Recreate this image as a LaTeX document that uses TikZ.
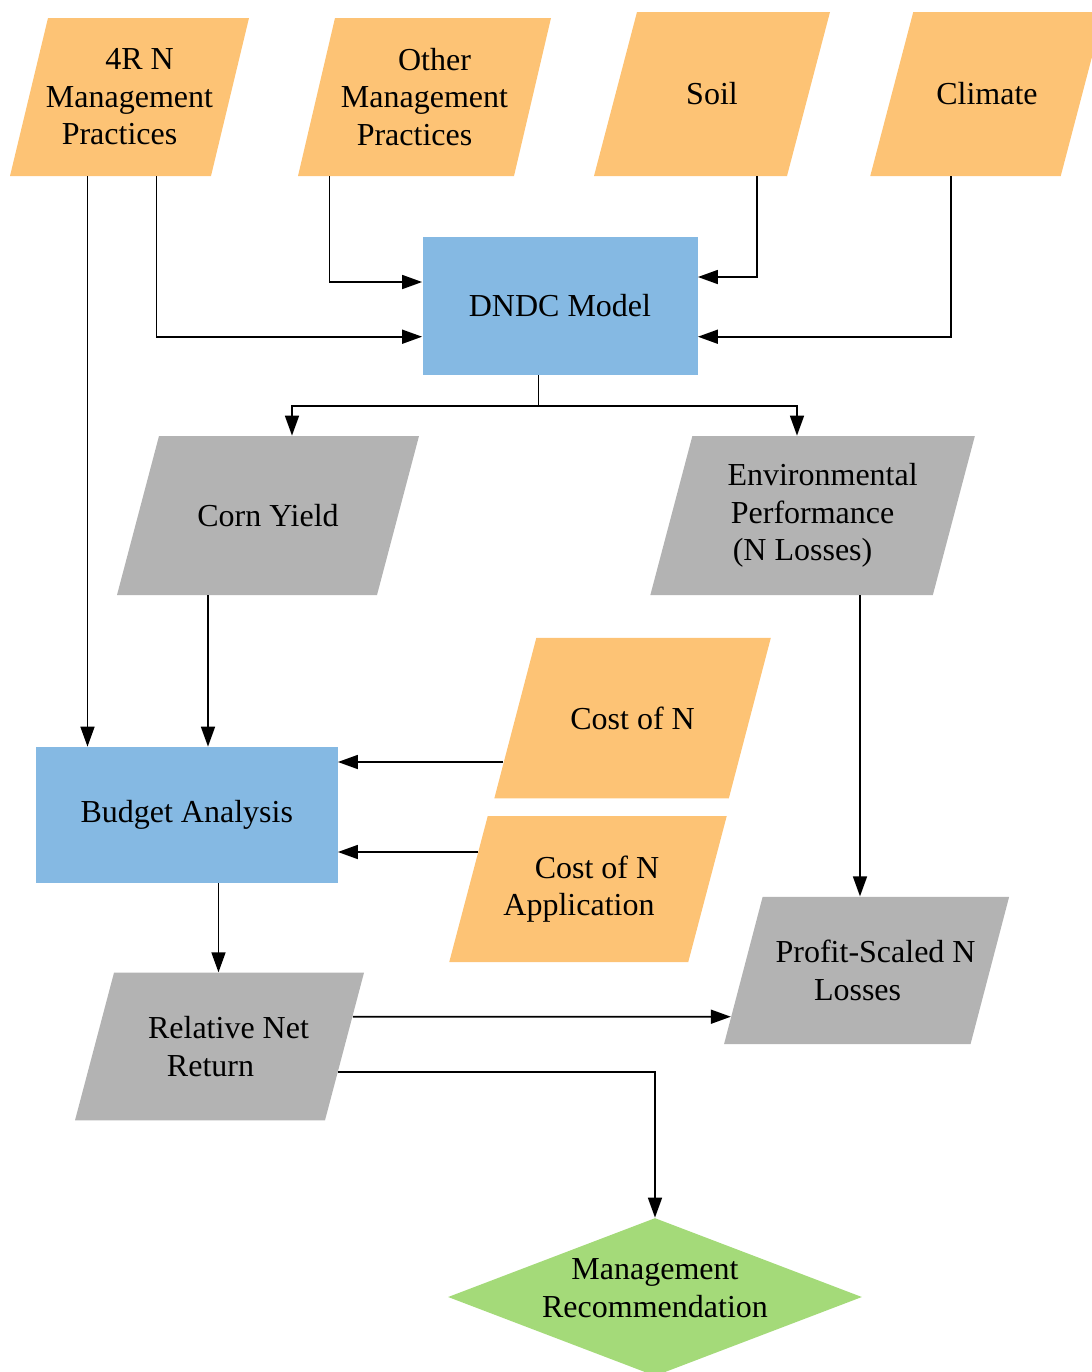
\documentclass[tikz,border=0pt]{standalone}
\usepackage{fontspec}
\setmainfont{Liberation Serif}
\usetikzlibrary{arrows.meta,calc,shapes.geometric}
\definecolor{cor}{HTML}{FDC375}
\definecolor{cgr}{HTML}{B3B3B3}
\definecolor{cbl}{HTML}{85B9E3}
\definecolor{cgn}{HTML}{A4DA79}
\tikzset{
  arr/.style={-{Triangle[length=10pt,width=7pt]}, line width=0.85pt},
  ln/.style={line width=0.85pt},
  txt/.style={align=center, inner sep=0pt, font=\fontsize{16}{18.75}\selectfont},
}
% #1 name, #2 colour, #3 cx, #4 cy, #5 width, #6 height, #7 slant, #8 text (all in px)
\newcommand\mypgram[8]{%
  \fill[#2] ({#3-#5/2+#7/2},{#4-#6/2}) -- ({#3+#5/2+#7/2},{#4-#6/2})
     -- ({#3+#5/2-#7/2},{#4+#6/2}) -- ({#3-#5/2-#7/2},{#4+#6/2}) -- cycle;
  \node[txt, minimum width={#5*0.5pt}, minimum height={#6*0.5pt}] (#1) at (#3,#4) {#8};
}
\begin{document}
\begin{tikzpicture}[x=0.5pt, y=-0.5pt]
\useasboundingbox (0,0) rectangle (1092,1372);

% inputs
\mypgram{nfour}{cor}{129.5}{97}{201}{158}{38}{\hspace*{10pt}4R N\\Management\\Practices\hspace*{10pt}}
\mypgram{nother}{cor}{424.5}{97}{216}{158}{37}{\hspace*{10pt}Other\\Management\\Practices\hspace*{10pt}}
\mypgram{nsoil}{cor}{712}{94}{193}{164}{43}{Soil}
\mypgram{nclim}{cor}{987}{94}{190.5}{164}{43}{Climate}

% model
\node[txt, fill=cbl, minimum width=137.5pt, minimum height=69pt] (ndndc) at (560,306) {DNDC Model};

% outputs
\mypgram{ncorn}{cgr}{268}{515.5}{260}{159}{42}{Corn Yield}
\mypgram{nenv}{cgr}{812.6}{515.5}{282.5}{159}{42}{\hspace*{10pt}Environmental\\Performance\\(N Losses)\hspace*{10pt}}

% costs
\mypgram{ncostn}{cor}{632.6}{718}{234.5}{160.5}{42}{Cost of N}
\mypgram{ncostapp}{cor}{588}{889}{239}{146}{38.5}{\hspace*{9pt}Cost of N\\Application\hspace*{9pt}}

% budget
\node[txt, fill=cbl, minimum width=150.75pt, minimum height=68pt] (nbud) at (186.75,815) {Budget Analysis};

\mypgram{nprofit}{cgr}{866.6}{970.4}{246.5}{147.3}{38.6}{\hspace*{9pt}Profit-Scaled N\\Losses\hspace*{9pt}}
\mypgram{nrel}{cgr}{219.5}{1046.5}{250}{147.6}{39}{\hspace*{9pt}Relative Net\\Return\hspace*{9pt}}

% decision
\node[diamond, fill=cgn, inner sep=0pt, shape aspect=2.62, minimum width=207pt, minimum height=79pt] (ndec) at (655,1297) {};
\node[txt] (ndectxt) at (655,1288) {Management\\Recommendation};

% connectors
\draw[arr] (nfour.south -| 87.5,0) -- (nbud.north -| 87.5,0);
\draw[arr] (nfour.south -| 156.5,0) |- (ndndc.west |- 0,336.7);
\draw[arr] (nother.south -| 329.5,0) |- (ndndc.west |- 0,282);
\draw[arr] (nsoil.south -| 757,0) |- (ndndc.east |- 0,277);
\draw[arr] (nclim.south -| 951,0) |- (ndndc.east |- 0,336.7);

\coordinate (j) at (538.5,406);
\draw[ln] (ndndc.south -| j) -- (j);
\draw[arr] (j) -| (ncorn.north -| 292,0);
\draw[arr] (j) -| (nenv.north -| 797,0);

\draw[arr] (ncorn.south -| 208,0) -- (nbud.north -| 208,0);
\draw[arr] (nenv.south -| 860,0) -- (nprofit.north -| 860,0);

\draw[arr] ($(ncostn.west)+(-11.5,44)$) -- (nbud.east |- 0,762);
\draw[arr] ($(ncostapp.west)+(9.8,-37)$) -- (nbud.east |- 0,852);

\draw[arr] (nbud.south -| 218.5,0) -- (nrel.north -| 218.5,0);
\draw[arr] ($(nrel.east)+(7.9,-29.8)$) -- ($(nprofit.west)+(-12.1,46.3)$);
\draw[arr] ($(nrel.east)+(-6.7,25.2)$) -| (ndec.north);
\end{tikzpicture}
\end{document}
